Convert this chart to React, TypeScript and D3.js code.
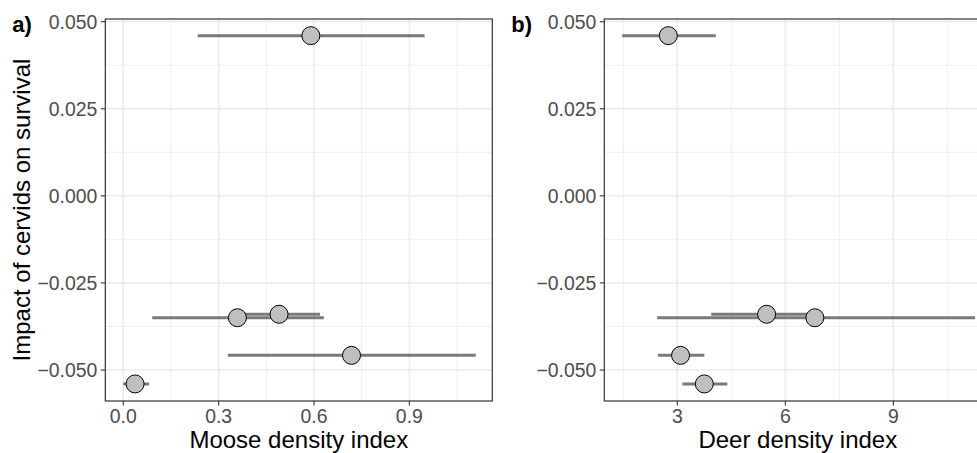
import React from "react";
import * as d3 from "d3";

const impact = [0.046, -0.035, -0.034, -0.0458, -0.054];
const mooseX = [0.59, 0.359, 0.49, 0.718, 0.037];
const mooseLo = [0.234, 0.091, 0.37, 0.329, 0.0];
const mooseHi = [0.948, 0.631, 0.619, 1.109, 0.081];
const deerX = [2.75, 6.82, 5.48, 3.09, 3.75];
const deerLo = [1.47, 2.44, 3.94, 2.46, 3.14];
const deerHi = [4.07, 11.27, 6.7, 3.75, 4.39];

const yTicks = [0.05, 0.025, 0, -0.025, -0.05];
const yMinor = [0.0375, 0.0125, -0.0125, -0.0375];
const mooseTicks = [0, 0.3, 0.6, 0.9];
const mooseMinor = [0.15, 0.45, 0.75, 1.05];
const deerTicks = [3, 6, 9];
const deerMinor = [1.5, 4.5, 7.5, 10.5];

const W = 977;
const H = 453;
const FONT = "'Liberation Sans', Arial, Helvetica, sans-serif";
const top = 19;
const bottom = 401;

const yScale = d3.scaleLinear().domain([-0.0589, 0.05078]).range([bottom, top]);

const fmtY = (v: number) => (v < 0 ? "\u2212" : "") + d3.format(".3f")(Math.abs(v));

function Panel(props: {
  left: number;
  right: number;
  xDomain: [number, number];
  ticks: number[];
  minor: number[];
  fmt: (v: number) => string;
  xs: number[];
  lo: number[];
  hi: number[];
  title: string;
  tag: string;
  clipId: string;
}) {
  const { left, right, xDomain, ticks, minor, fmt, xs, lo, hi, title, tag, clipId } = props;
  const x = d3.scaleLinear().domain(xDomain).range([left, right]);
  return (
    <g>
      <defs>
        <clipPath id={clipId}>
          <rect x={left} y={top} width={right - left} height={bottom - top} />
        </clipPath>
      </defs>
      <rect x={left} y={top} width={right - left} height={bottom - top} fill="#fff" />
      <g clipPath={`url(#${clipId})`}>
        {yMinor.map((v) => (
          <line key={"ym" + v} x1={left} x2={right} y1={yScale(v)} y2={yScale(v)} stroke="#ebebeb" strokeWidth={0.8} />
        ))}
        {minor.map((v) => (
          <line key={"xm" + v} x1={x(v)} x2={x(v)} y1={top} y2={bottom} stroke="#ebebeb" strokeWidth={0.8} />
        ))}
        {yTicks.map((v) => (
          <line key={"yM" + v} x1={left} x2={right} y1={yScale(v)} y2={yScale(v)} stroke="#ebebeb" strokeWidth={1.5} />
        ))}
        {ticks.map((v) => (
          <line key={"xM" + v} x1={x(v)} x2={x(v)} y1={top} y2={bottom} stroke="#ebebeb" strokeWidth={1.5} />
        ))}
        {xs.map((_, i) => (
          <line
            key={"e" + i}
            x1={x(lo[i])}
            x2={x(hi[i])}
            y1={yScale(impact[i])}
            y2={yScale(impact[i])}
            stroke="#4d4d4d"
            strokeOpacity={0.75}
            strokeWidth={3}
          />
        ))}
        {xs.map((v, i) => (
          <circle key={"p" + i} cx={x(v)} cy={yScale(impact[i])} r={9} fill="#bfbfbf" stroke="#000" strokeWidth={1} />
        ))}
      </g>
      <rect x={left} y={top} width={right - left} height={bottom - top} fill="none" stroke="#333" strokeWidth={1.2} />
      {yTicks.map((v) => (
        <g key={"yt" + v}>
          <line x1={left - 4.5} x2={left} y1={yScale(v)} y2={yScale(v)} stroke="#333" strokeWidth={1.1} />
          <text x={left - 8} y={yScale(v)} dy="0.36em" textAnchor="end" fontSize={19.4} fill="#4d4d4d" fontFamily={FONT}>
            {fmtY(v)}
          </text>
        </g>
      ))}
      {ticks.map((v) => (
        <g key={"xt" + v}>
          <line x1={x(v)} x2={x(v)} y1={bottom} y2={bottom + 4.5} stroke="#333" strokeWidth={1.1} />
          <text x={x(v)} y={423} textAnchor="middle" fontSize={19.4} fill="#4d4d4d" fontFamily={FONT}>
            {fmt(v)}
          </text>
        </g>
      ))}
      <text x={(left + right) / 2} y={448} textAnchor="middle" fontSize={24} fill="#000" fontFamily={FONT}>
        {title}
      </text>
      <text x={left - 93} y={32} fontSize={22} fontWeight="bold" fill="#000" fontFamily={FONT}>
        {tag}
      </text>
    </g>
  );
}

export default function App() {
  return (
    <svg width={W} height={H} style={{ display: "block", position: "absolute", left: 0, top: 0 }}>
      <rect width={W} height={H} fill="#fff" />
      <Panel
        left={105.3}
        right={492.3}
        xDomain={[-0.0567, 1.161]}
        ticks={mooseTicks}
        minor={mooseMinor}
        fmt={(v) => d3.format(".1f")(v)}
        xs={mooseX}
        lo={mooseLo}
        hi={mooseHi}
        title="Moose density index"
        tag="a)"
        clipId="clipA"
      />
      <Panel
        left={604.3}
        right={991.3}
        xDomain={[0.972, 11.72]}
        ticks={deerTicks}
        minor={deerMinor}
        fmt={(v) => String(v)}
        xs={deerX}
        lo={deerLo}
        hi={deerHi}
        title="Deer density index"
        tag="b)"
        clipId="clipB"
      />
      <text
        transform={`translate(30, ${(top + bottom) / 2}) rotate(-90)`}
        textAnchor="middle"
        fontSize={24}
        fill="#000"
        fontFamily={FONT}
      >
        Impact of cervids on survival
      </text>
    </svg>
  );
}
